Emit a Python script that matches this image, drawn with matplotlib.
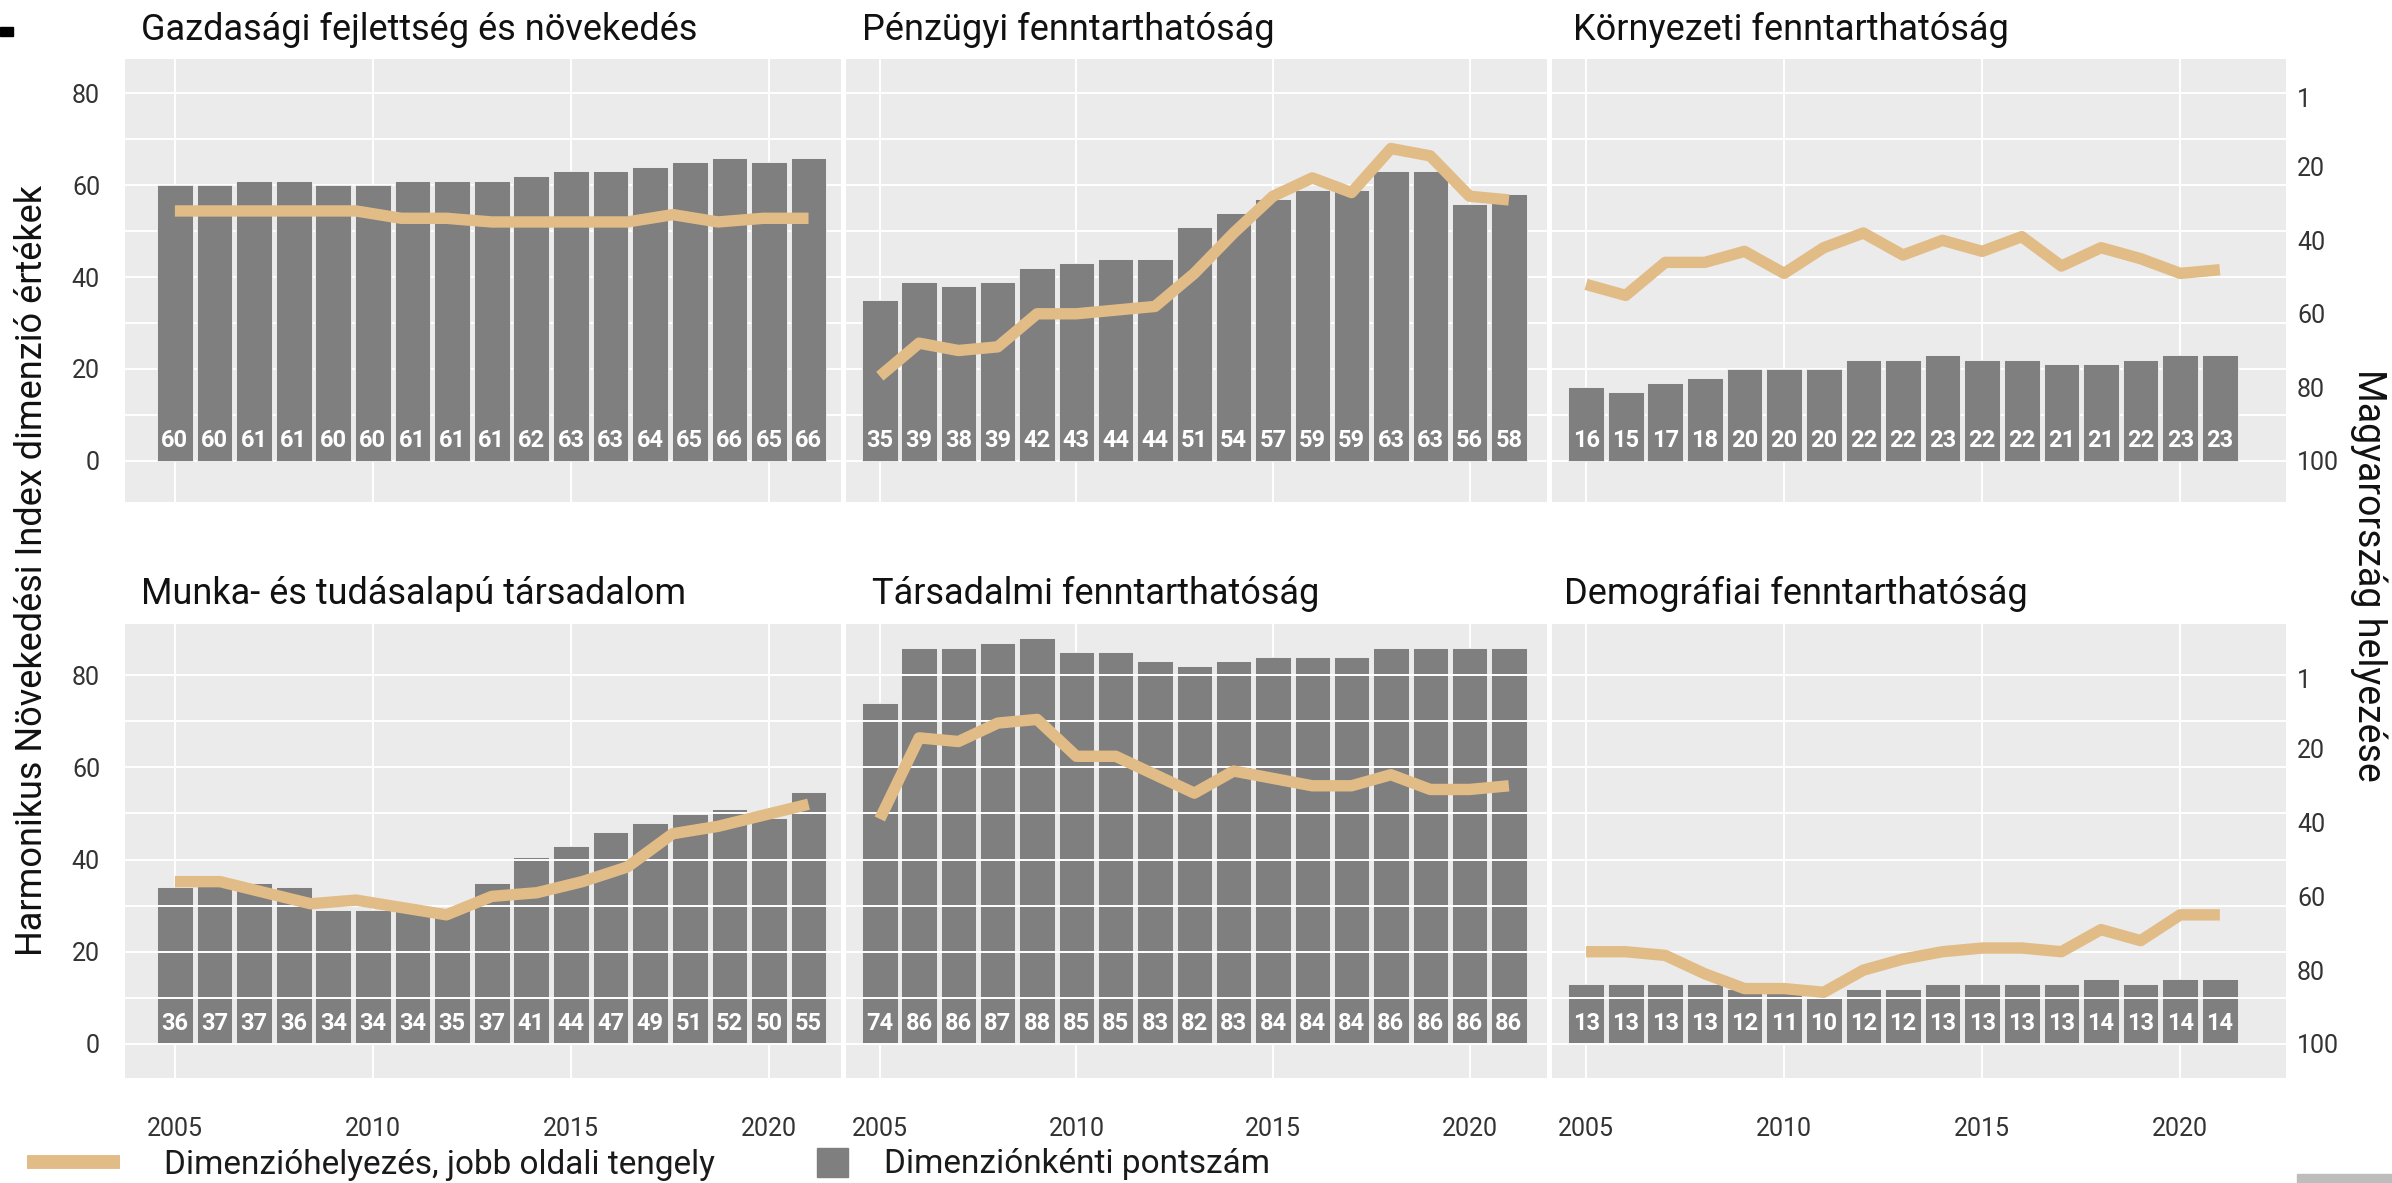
import numpy as np
import matplotlib
matplotlib.use('Agg')
import matplotlib.pyplot as plt
from matplotlib.lines import Line2D
from matplotlib.patches import Patch, Rectangle

# Roboto for all text, DejaVu as fallback
plt.rcParams['font.family'] = ['Roboto', 'DejaVu Sans']

# Years on the x axis
years = list(range(2005, 2022))

# Panel titles, row by row
titles = ['Gazdasági fejlettség és növekedés', 'Pénzügyi fenntarthatóság', 'Környezeti fenntarthatóság',
          'Munka- és tudásalapú társadalom', 'Társadalmi fenntarthatóság', 'Demográfiai fenntarthatóság']

# Dimension scores (printed on the bars)
gazd_score = [60, 60, 61, 61, 60, 60, 61, 61, 61, 62, 63, 63, 64, 65, 66, 65, 66]
penz_score = [35, 39, 38, 39, 42, 43, 44, 44, 51, 54, 57, 59, 59, 63, 63, 56, 58]
korny_score = [16, 15, 17, 18, 20, 20, 20, 22, 22, 23, 22, 22, 21, 21, 22, 23, 23]
munka_score = [36, 37, 37, 36, 34, 34, 34, 35, 37, 41, 44, 47, 49, 51, 52, 50, 55]
tars_score = [74, 86, 86, 87, 88, 85, 85, 83, 82, 83, 84, 84, 84, 86, 86, 86, 86]
demo_score = [13, 13, 13, 13, 12, 11, 10, 12, 12, 13, 13, 13, 13, 14, 13, 14, 14]

# In the labour panel the drawn bars are lower than their labels
munka_bar = [34, 35, 35, 34, 29, 29, 29, 29.5, 35, 40.6, 43, 46, 48, 49.8, 51, 49, 54.6]

# Hungary's rank per dimension (right axis, 1 = best)
# the first column's lines have 15 points spread over the whole period
gazd_rank = [32, 32, 32, 32, 32, 34, 34, 35, 35, 35, 35, 33, 35, 34, 34]
penz_rank = [77, 68, 70, 69, 60, 60, 59, 58, 49, 38, 28, 23, 27, 15, 17, 28, 29]
korny_rank = [52, 55, 46, 46, 43, 49, 42, 38, 44, 40, 43, 39, 47, 42, 45, 49, 48]
munka_rank = [56, 56, 59, 62, 61, 63, 65, 60, 59, 56, 52, 43, 41, 38, 35]
tars_rank = [39, 17, 18, 13, 12, 22, 22, 27, 32, 26, 28, 30, 30, 27, 31, 31, 30]
demo_rank = [75, 75, 76, 81, 85, 85, 86, 80, 77, 75, 74, 74, 75, 69, 72, 65, 65]

bar_heights = [gazd_score, penz_score, korny_score, munka_bar, tars_score, demo_score]
bar_labels = [gazd_score, penz_score, korny_score, munka_score, tars_score, demo_score]
ranks = [gazd_rank, penz_rank, korny_rank, munka_rank, tars_rank, demo_rank]

rank_ticks = [1, 20, 40, 60, 80, 100]

# colours
bg_col = '#EAEBEA'
bar_col = '#7F7F7F'
line_col = '#E2BC87'
tick_col = '#333333'

W, H = 2392, 1183
fig = plt.figure(figsize=(W / 100, H / 100), dpi=100)

# panel placement in pixels
col_px = [(125, 841), (846, 1547), (1552, 2286)]
row_px = [(59, 502), (624, 1078)]
row_ylim = [(-9.0, 87.5), (-7.4, 91.1)]
col_xlim = [(2003.74, 2021.82), (2004.14, 2021.97), (2004.14, 2022.67)]
title_x = [[141, 862, 1573], [141, 872, 1564]]
title_base = [40, 604]


# the rank axis is tied to the score axis: rank = 100 - 1.25 * score
def to_rank(v):
    return 100 - 1.25 * v


for i in range(6):
    r, c = divmod(i, 3)
    x0, x1 = col_px[c]
    y0, y1 = row_px[r]
    ax = fig.add_axes([x0 / W, 1 - y1 / H, (x1 - x0) / W, (y1 - y0) / H])
    ax.set_facecolor(bg_col)
    for s in ax.spines.values():
        s.set_visible(False)
    ax.set_xlim(col_xlim[c])
    ax.set_ylim(row_ylim[r])
    ax.set_xticks([2005, 2010, 2015, 2020])
    ax.set_yticks([0, 20, 40, 60, 80])
    ax.set_axisbelow(True)
    ax.grid(axis='x', color='white', lw=1.4)

    # bottom row has the horizontal grid drawn over the bars
    hz = 0.6 if r == 0 else 1.5
    for v in range(0, 90, 10):
        ax.axhline(v, color='white', lw=1.4, zorder=hz)

    ax.bar(years, bar_heights[i], width=0.9, color=bar_col, edgecolor='#F4F4F4',
           linewidth=0.6, zorder=1)
    for x, s in zip(years, bar_labels[i]):
        ax.text(x, 4.5, str(s), ha='center', va='center', color='white',
                fontsize=17, fontweight='bold', zorder=3)

    ax.tick_params(length=0, labelsize=18, labelcolor=tick_col)
    ax.tick_params(axis='y', pad=18)
    ax.tick_params(axis='x', pad=28)
    if r == 0:
        ax.tick_params(labelbottom=False)
    if c != 0:
        ax.tick_params(labelleft=False)

    tw = ax.twinx()
    for s in tw.spines.values():
        s.set_visible(False)
    tw.set_ylim(to_rank(row_ylim[r][0]), to_rank(row_ylim[r][1]))
    tw.set_yticks(rank_ticks)
    tw.tick_params(length=0, labelsize=18, labelcolor=tick_col, pad=8)
    if c != 2:
        tw.tick_params(labelright=False)
    lx = np.linspace(years[0], years[-1], len(ranks[i]))
    tw.plot(lx, ranks[i], color=line_col, lw=8.2, solid_capstyle='butt',
            solid_joinstyle='round')

    fig.text(title_x[r][c] / W, 1 - title_base[r] / H, titles[i], fontsize=26,
             color='#111111', ha='left', va='baseline')

# axis titles
fig.text(32 / W, 1 - 570 / H, 'Harmonikus Növekedési Index dimenzió értékek', rotation=90,
         ha='center', va='center', fontsize=26, color='#111111')
fig.text(2369 / W, 1 - 575 / H, 'Magyarország helyezése', rotation=270,
         ha='center', va='center', fontsize=27, color='#111111')

# legend, one entry each so the keys can have their own sizes
fs = 24
fig.legend(handles=[Line2D([], [], color=line_col, lw=10, solid_capstyle='butt')],
           labels=['Dimenzióhelyezés, jobb oldali tengely'], loc='center left',
           bbox_to_anchor=(27 / W, 1 - 1165 / H), frameon=False, fontsize=fs,
           handlelength=2.8, handletextpad=1.3, borderpad=0, borderaxespad=0,
           labelcolor='#1a1a1a')
fig.legend(handles=[Patch(color=bar_col)], labels=['Dimenziónkénti pontszám'],
           loc='center left', bbox_to_anchor=(817 / W, 1 - 1164 / H), frameon=False,
           fontsize=fs, handlelength=0.93, handleheight=0.96, handletextpad=1.08,
           borderpad=0, borderaxespad=0, labelcolor='#1a1a1a')

# small marks at the edges of the original image
fig.patches.append(Rectangle((0, 1 - 36 / H), 13 / W, 9 / H, transform=fig.transFigure,
                             color='black'))
fig.patches.append(Rectangle((2297 / W, 0), 95 / W, 9 / H, transform=fig.transFigure,
                             color='#BDBDBD'))

fig.savefig('out.png', dpi=100)
